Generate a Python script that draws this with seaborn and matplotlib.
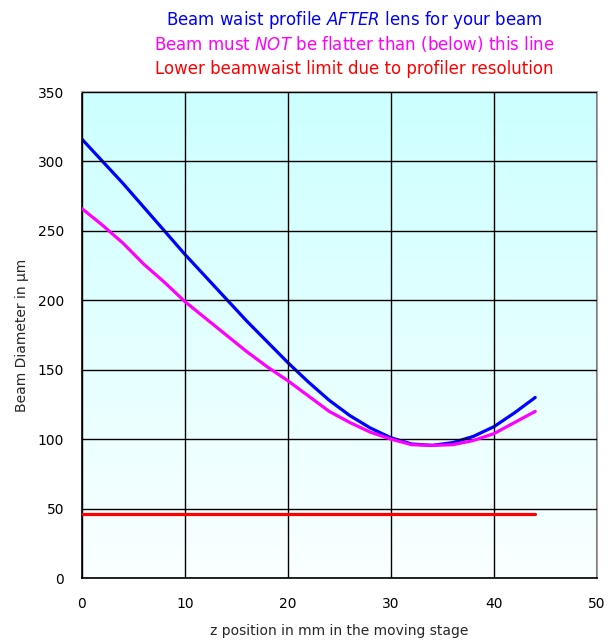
import numpy as np
import pandas as pd
import matplotlib
matplotlib.use("Agg")
import matplotlib.pyplot as plt
import seaborn as sns

# ---- data ----
z_mm = [0, 2, 4, 6, 8, 10, 12, 14, 16, 18, 20, 22, 24, 26, 28, 30, 32, 34, 36, 38, 40, 42, 44]
beam_after_lens = [316, 300, 284, 267, 250, 233, 217, 201, 185, 170, 155, 141, 128, 117, 108, 101,
                   96.5, 95.5, 97.5, 102, 109, 119, 130]
flatness_limit = [266, 254, 241, 226, 213, 199, 187, 175, 163, 152, 142, 131, 120, 112, 105, 100,
                  96, 95.5, 96, 99, 104, 112, 120]
resolution_limit_x = [0, 44]
resolution_limit_y = [46, 46]

x_ticks = [0, 10, 20, 30, 40, 50]
y_ticks = [0, 50, 100, 150, 200, 250, 300, 350]

title_lines = [
    (r"Beam waist profile $\it{AFTER}$ lens for your beam", "#0000FF"),
    (r"Beam must $\it{NOT}$ be flatter than (below) this line", "#FF00FF"),
    ("Lower beamwaist limit due to profiler resolution", "#FF0000"),
]

sns.set_style("white")
plt.rcParams["font.family"] = ["DejaVu Sans"]

fig = plt.figure(figsize=(6.13, 6.41), dpi=100)
ax = fig.add_axes([82 / 613, 1 - 578 / 641, 515 / 613, 486 / 641])

# gradient background (cyan at top -> near white at bottom)
grad = np.linspace(0, 1, 256).reshape(-1, 1)
top = np.array([204, 255, 255]) / 255
bot = np.array([250, 255, 255]) / 255
img = bot[None, None, :] * (1 - grad[..., None]) + top[None, None, :] * grad[..., None]
ax.imshow(img, extent=[0, 50, 0, 350], origin="lower", aspect="auto", zorder=0)

df_blue = pd.DataFrame({"z": z_mm, "d": beam_after_lens})
df_mag = pd.DataFrame({"z": z_mm, "d": flatness_limit})
df_red = pd.DataFrame({"z": resolution_limit_x, "d": resolution_limit_y})

sns.lineplot(data=df_mag, x="z", y="d", ax=ax, color="#FF00FF", linewidth=2.3, zorder=3)
sns.lineplot(data=df_blue, x="z", y="d", ax=ax, color="#0000FF", linewidth=2.3, zorder=2)
sns.lineplot(data=df_red, x="z", y="d", ax=ax, color="#FF0000", linewidth=2.3, zorder=3)

ax.set_xlim(0, 50)
ax.set_ylim(0, 350)
ax.set_xticks(x_ticks)
ax.set_yticks(y_ticks)
ax.grid(True, color="black", linewidth=1.0, zorder=1)
ax.set_axisbelow(False)
for gl in ax.get_xgridlines() + ax.get_ygridlines():
    gl.set_zorder(1)
ax.tick_params(axis="both", length=0, labelsize=10, colors="black")
ax.tick_params(axis="y", pad=13)
ax.tick_params(axis="x", pad=14)

for side in ["left", "bottom"]:
    ax.spines[side].set_color("black")
    ax.spines[side].set_linewidth(1.2)
for side in ["top", "right"]:
    ax.spines[side].set_color("#A0A0A0")
    ax.spines[side].set_linewidth(1.5)

ax.set_xlabel("z position in mm in the moving stage", fontsize=10, labelpad=9)
ax.set_ylabel("Beam Diameter in µm", fontsize=10, labelpad=6)

ys = [1 - 20 / 641, 1 - 44 / 641, 1 - 69 / 641]
for (txt, col), yy in zip(title_lines, ys):
    fig.text(354 / 613, yy, txt, color=col, fontsize=12, ha="center", va="center")

fig.savefig("out.png", dpi=100)
